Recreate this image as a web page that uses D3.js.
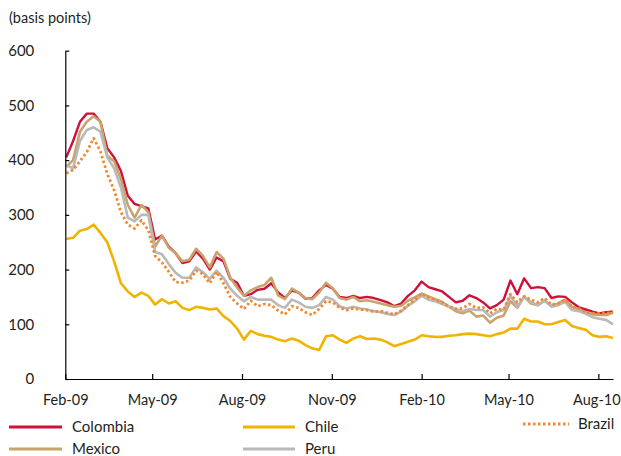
<!DOCTYPE html>
<html><head><meta charset="utf-8">
<script src="https://cdn.jsdelivr.net/npm/d3@7"></script>
<style>
html,body{margin:0;padding:0;background:#fff;}
svg{display:block;}
text{font-family:Lato,"Open Sans",sans-serif;fill:#231f20;}
</style></head>
<body>
<svg id="chart" width="621" height="456"></svg>
<script>
const dates = ["2009-02-02","2009-02-09","2009-02-16","2009-02-23","2009-03-02","2009-03-09","2009-03-16","2009-03-23","2009-03-30","2009-04-06","2009-04-13","2009-04-20","2009-04-27","2009-05-04","2009-05-11","2009-05-18","2009-05-25","2009-06-01","2009-06-08","2009-06-15","2009-06-22","2009-06-29","2009-07-06","2009-07-13","2009-07-20","2009-07-27","2009-08-03","2009-08-10","2009-08-17","2009-08-24","2009-08-31","2009-09-07","2009-09-14","2009-09-21","2009-09-28","2009-10-05","2009-10-12","2009-10-19","2009-10-26","2009-11-02","2009-11-09","2009-11-16","2009-11-23","2009-11-30","2009-12-07","2009-12-14","2009-12-21","2009-12-28","2010-01-04","2010-01-11","2010-01-18","2010-01-25","2010-02-01","2010-02-08","2010-02-15","2010-02-22","2010-03-01","2010-03-08","2010-03-15","2010-03-22","2010-03-29","2010-04-05","2010-04-12","2010-04-19","2010-04-26","2010-05-03","2010-05-10","2010-05-17","2010-05-24","2010-05-31","2010-06-07","2010-06-14","2010-06-21","2010-06-28","2010-07-05","2010-07-12","2010-07-19","2010-07-26","2010-08-02","2010-08-09","2010-08-16"];

const colombia = [405,435,470,485,485,470,422,405,380,335,320,316,312,255,262,242,230,212,215,233,220,200,222,215,183,176,152,155,163,165,175,158,148,162,158,147,148,162,172,165,150,148,152,148,150,148,144,140,133,138,152,162,178,168,164,160,150,140,143,153,148,140,129,135,145,180,155,184,166,168,166,148,151,150,140,131,127,123,120,122,123];
const mexico = [388,400,452,470,480,470,408,398,365,318,295,318,305,242,262,240,230,215,218,238,225,204,232,220,185,167,152,162,168,172,185,153,146,165,158,148,146,158,176,166,148,145,150,142,144,141,138,135,132,134,143,149,156,151,146,141,132,124,120,125,114,116,103,112,116,142,130,150,138,135,143,134,138,145,132,127,122,118,117,117,121];
const chile = [256,258,271,274,282,267,250,215,175,160,150,158,152,136,146,138,142,130,126,132,130,127,129,115,106,92,72,88,82,79,77,72,69,74,70,62,56,53,78,80,72,66,74,78,73,74,72,67,60,64,68,72,80,78,77,77,79,80,82,83,82,80,78,82,85,92,92,110,105,105,100,100,104,108,97,93,90,80,77,78,75];
const peru = [391,385,435,455,460,452,405,385,350,295,288,300,300,232,228,210,194,185,185,204,195,183,198,185,165,152,142,150,145,145,145,135,130,145,140,132,130,135,150,145,133,129,132,129,127,124,122,119,117,123,134,142,152,145,142,137,132,128,124,128,126,126,114,122,126,152,132,150,141,135,143,132,135,141,126,124,119,113,110,108,100];
const brazil = [376,382,398,415,440,416,375,345,305,282,275,290,272,225,213,196,177,176,180,198,192,175,196,175,150,138,128,143,133,137,135,125,118,133,130,122,117,128,142,140,130,126,129,127,126,123,124,121,118,125,135,145,156,149,145,139,133,128,129,137,130,131,120,128,127,155,140,151,145,140,148,136,138,145,132,129,122,120,120,120,123];

const xTickDates = ["2009-02-01","2009-05-01","2009-08-01","2009-11-01","2010-02-01","2010-05-01","2010-08-01"];
const yTicks = [0,100,200,300,400,500,600];
const unitLabel = "(basis points)";

const series = [
  {name:"Colombia", values:colombia, color:"#d0103a", dash:null, width:2.4},
  {name:"Mexico", values:mexico, color:"#c8a36c", dash:null, width:2.6},
  {name:"Peru", values:peru, color:"#b9b9b9", dash:null, width:2.6},
  {name:"Chile", values:chile, color:"#f0b400", dash:null, width:2.6},
  {name:"Brazil", values:brazil, color:"#ef8a32", dash:"2.5,2.5", width:2.8}
];

const parse = d3.timeParse("%Y-%m-%d");
const svg = d3.select("#chart");

const x = d3.scaleTime().domain([parse("2009-02-01"), parse("2010-08-16")]).range([65.3, 613]);
const y = d3.scaleLinear().domain([0,600]).range([379, 50.7]);

// unit label
svg.append("text").attr("x",9).attr("y",23).attr("font-size",14.5).text(unitLabel);

// series
const line = d3.line().x((d,i)=>x(parse(dates[i]))).y(d=>y(d));
series.forEach(s=>{
  svg.append("path").datum(s.values)
    .attr("fill","none").attr("stroke",s.color).attr("stroke-width",s.width)
    .attr("stroke-linejoin","round")
    .attr("stroke-dasharray",s.dash)
    .attr("d",line);
});

// axes
const yAxis = d3.axisLeft(y).tickValues(yTicks).tickSizeInner(-4).tickSizeOuter(0).tickPadding(31);
const gy = svg.append("g").attr("transform","translate(65.3,0)").call(yAxis);
gy.selectAll("text").attr("font-size",15).attr("font-family","Lato");
gy.selectAll("line,path").attr("stroke","#000").attr("stroke-width",1.2);

const xAxis = d3.axisBottom(x).tickValues(xTickDates.map(parse)).tickFormat(d3.timeFormat("%b-%y"))
  .tickSizeInner(-5).tickSizeOuter(0).tickPadding(16);
const gx = svg.append("g").attr("transform","translate(0,379)").call(xAxis);
gx.selectAll("text").attr("font-size",14.5).attr("font-family","Lato");
gx.selectAll("text").filter((d,i,n)=>i===n.length-1).attr("dx",-2);
gx.selectAll("line,path").attr("stroke","#000").attr("stroke-width",1.2);

// legend
const legendItems = [
  {s:series[0], lx:9, ly:427, len:53, tx:72},
  {s:series[1], lx:9, ly:449, len:53, tx:72},
  {s:series[3], lx:243, ly:427, len:52, tx:305},
  {s:series[2], lx:243, ly:449, len:52, tx:305},
  {s:series[4], lx:523, ly:424, len:46, tx:578}
];
legendItems.forEach(it=>{
  svg.append("line").attr("x1",it.lx).attr("x2",it.lx+it.len).attr("y1",it.ly).attr("y2",it.ly)
    .attr("stroke",it.s.color).attr("stroke-width",3).attr("stroke-dasharray",it.s.dash);
  svg.append("text").attr("x",it.tx).attr("y",it.ly).attr("dy","0.35em").attr("font-size",15).text(it.s.name);
});
</script>
</body></html>
